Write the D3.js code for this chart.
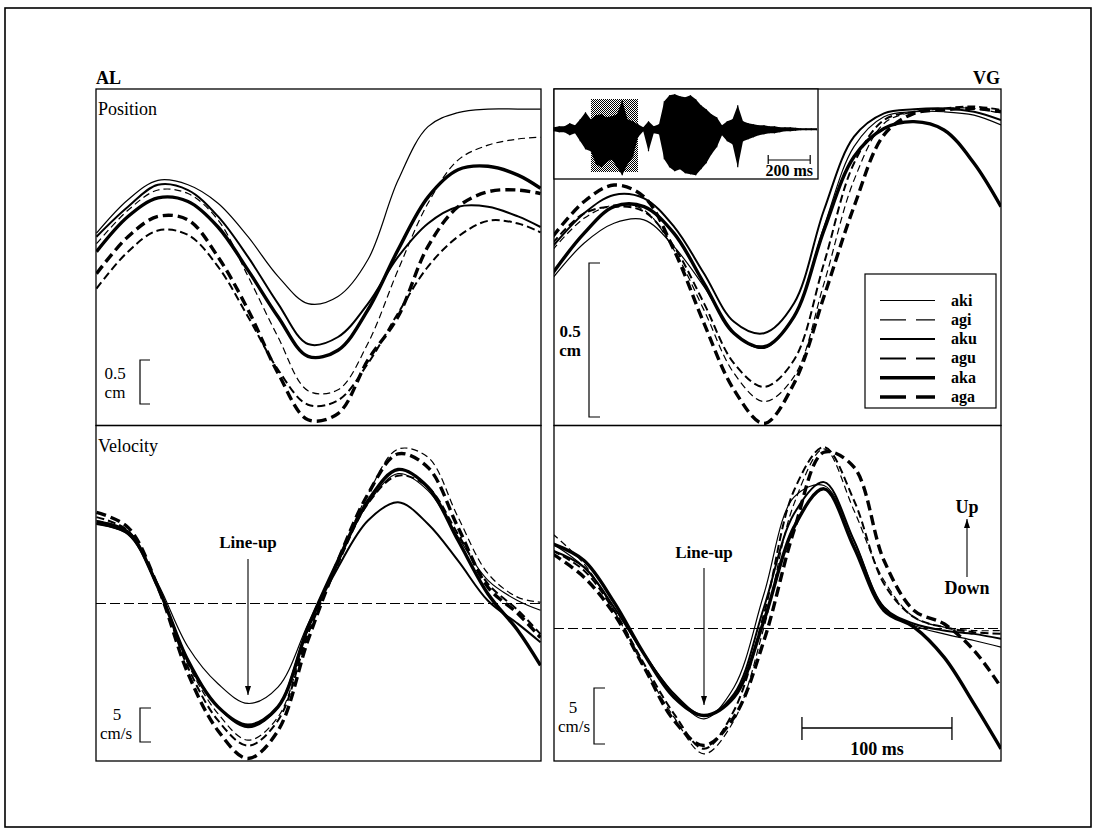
<!DOCTYPE html>
<html>
<head>
<meta charset="utf-8">
<script src="https://cdn.jsdelivr.net/npm/d3@7"></script>
<style>
  body { margin: 0; background: #fff; }
  svg { display: block; }
  text { font-family: "Liberation Serif", "Times New Roman", serif; fill: #000; }
</style>
</head>
<body>
<svg id="fig" width="1096" height="829"></svg>
<script>
// ---- data -------------------------------------------------------------
const syllables = ["aki", "agi", "aku", "agu", "aka", "aga"];

// time (ms) relative to the line-up point (velocity minimum)
const timeAL = [-101, -80, -60, -40, -20, 0, 20, 40, 60, 80, 100, 120, 140, 160, 180, 195];
const timeVG = [-101, -80, -60, -40, -20, 0, 20, 40, 60, 80, 100, 120, 140, 160, 180, 198];

// speaker AL, tongue position (cm)
const posAL_aki = [2.18, 2.56, 2.78, 2.73, 2.52, 2.14, 1.69, 1.38, 1.46, 1.88, 2.78, 3.39, 3.55, 3.59, 3.59, 3.59];
const posAL_agi = [2.06, 2.44, 2.67, 2.63, 2.33, 1.69, 1.00, 0.39, 0.40, 0.93, 1.76, 2.52, 3.01, 3.18, 3.25, 3.27];
const posAL_aku = [2.14, 2.48, 2.73, 2.67, 2.37, 1.91, 1.38, 0.92, 1.00, 1.38, 1.91, 2.29, 2.48, 2.48, 2.37, 2.25];
const posAL_agu = [1.55, 1.97, 2.21, 2.16, 1.80, 1.23, 0.63, 0.23, 0.28, 0.70, 1.27, 1.80, 2.14, 2.32, 2.29, 2.19];
const posAL_aka = [1.97, 2.37, 2.58, 2.54, 2.25, 1.76, 1.23, 0.78, 0.85, 1.31, 1.99, 2.59, 2.90, 2.94, 2.84, 2.69];
const posAL_aga = [1.72, 2.14, 2.37, 2.33, 1.91, 1.31, 0.59, 0.06, 0.13, 0.74, 1.23, 2.03, 2.48, 2.65, 2.67, 2.63];

// speaker AL, tongue velocity (cm/s)
const velAL_aki = [11.7, 10.2, 2.9, -6.4, -11.8, -14.7, -12.3, -3.0, 6.3, 14.7, 19.1, 16.6, 9.8, 3.4, 0.4, -1.0];
const velAL_agi = [12.2, 10.5, 2.4, -8.9, -16.2, -20.1, -16.7, -4.0, 6.3, 16.1, 22.7, 21.5, 12.7, 4.4, 0.9, 0.2];
const velAL_aku = [11.7, 10.2, 2.4, -8.4, -15.2, -18.2, -15.2, -3.5, 5.3, 12.2, 14.9, 11.7, 6.3, 0.4, -3.0, -5.7];
const velAL_agu = [12.7, 10.7, 2.4, -9.4, -17.2, -20.9, -17.2, -4.5, 5.8, 14.7, 18.8, 17.1, 10.2, 2.9, -1.0, -4.5];
const velAL_aka = [12.0, 10.5, 2.4, -8.4, -15.2, -17.9, -15.2, -3.5, 6.3, 15.1, 19.7, 17.1, 9.3, 1.4, -4.0, -9.1];
const velAL_aga = [13.4, 11.2, 2.4, -10.3, -18.7, -22.8, -18.7, -5.4, 6.3, 16.1, 22.0, 20.0, 11.2, 2.4, -1.5, -5.0];

// speaker VG, tongue position (cm)
const posVG_aki = [0.476, 0.590, 0.655, 0.666, 0.579, 0.449, 0.298, 0.249, 0.352, 0.644, 0.904, 1.001, 1.017, 1.017, 1.006, 0.974];
const posVG_agi = [0.568, 0.671, 0.714, 0.698, 0.568, 0.373, 0.168, 0.076, 0.157, 0.460, 0.795, 0.979, 1.017, 1.028, 1.028, 1.012];
const posVG_aku = [0.579, 0.687, 0.747, 0.736, 0.644, 0.492, 0.335, 0.298, 0.395, 0.698, 0.936, 1.012, 1.025, 1.028, 1.017, 0.990];
const posVG_agu = [0.590, 0.687, 0.709, 0.693, 0.579, 0.395, 0.200, 0.124, 0.211, 0.525, 0.850, 0.990, 1.017, 1.028, 1.034, 1.023];
const posVG_aka = [0.492, 0.622, 0.709, 0.709, 0.622, 0.460, 0.298, 0.254, 0.352, 0.633, 0.871, 0.963, 0.985, 0.958, 0.850, 0.709];
const posVG_aga = [0.611, 0.725, 0.779, 0.741, 0.568, 0.330, 0.114, 0.005, 0.135, 0.417, 0.709, 0.942, 1.012, 1.023, 1.028, 1.017];

// speaker VG, tongue velocity (cm/s)
const velVG_aki = [7.56, 5.48, 1.90, -2.26, -5.83, -8.07, -5.24, 3.10, 11.73, 12.77, 7.86, 1.90, 0.27, -0.48, -1.07, -1.67];
const velVG_agi = [8.45, 5.77, 1.61, -3.45, -7.92, -11.19, -8.21, 0.12, 11.13, 16.04, 10.54, 4.29, 1.01, 0.12, -0.18, -0.18];
const velVG_aku = [6.96, 5.48, 1.90, -2.26, -5.83, -7.77, -5.83, 1.90, 10.24, 13.07, 7.86, 1.90, 0.42, -0.18, -0.48, -0.92];
const velVG_agu = [6.96, 5.18, 1.61, -3.15, -7.62, -10.74, -7.32, 1.31, 12.32, 16.19, 11.43, 3.99, 1.01, 0.12, -0.33, -0.48];
const velVG_aka = [7.56, 6.07, 2.35, -2.26, -6.13, -7.77, -6.13, 0.71, 9.05, 12.47, 7.26, 1.61, 0.12, -2.56, -6.73, -10.74];
const velVG_aga = [6.67, 4.58, 1.31, -3.45, -8.21, -10.45, -7.92, -1.07, 8.75, 15.74, 14.40, 6.07, 1.61, 0.42, -1.96, -5.24];

// acoustic waveform of the utterance (envelope, % of full scale), sampled every 25 ms
const waveTime = d3.range(0, 1251, 25);
const waveUpper = [4, 6, 6, 12, 8, 20, 34, 20, 28, 30, 24, 26, 30, 58, 20, 16, 10, 4, 16, 6, 10, 56, 68, 70, 66, 64, 68, 60, 48, 40, 30, 24, 8, 16, 20, 48, 16, 12, 10, 8, 8, 6, 6, 4, 4, 4, 3, 2, 2, 2, 2];
const waveLower = [4, 6, 6, 12, 8, 24, 40, 44, 70, 76, 66, 60, 76, 92, 70, 56, 16, 4, 44, 8, 10, 60, 76, 84, 80, 88, 90, 92, 80, 68, 50, 36, 12, 24, 30, 76, 24, 20, 16, 12, 10, 8, 8, 6, 4, 4, 3, 2, 2, 2, 2];
const waveSegment = [176, 400];   // highlighted stretch (ms)

const posAL = { aki: posAL_aki, agi: posAL_agi, aku: posAL_aku, agu: posAL_agu, aka: posAL_aka, aga: posAL_aga };
const velAL = { aki: velAL_aki, agi: velAL_agi, aku: velAL_aku, agu: velAL_agu, aka: velAL_aka, aga: velAL_aga };
const posVG = { aki: posVG_aki, agi: posVG_agi, aku: posVG_aku, agu: posVG_agu, aka: posVG_aka, aga: posVG_aga };
const velVG = { aki: velVG_aki, agi: velVG_agi, aku: velVG_aku, agu: velVG_agu, aka: velVG_aka, aga: velVG_aga };

// ---- styles -----------------------------------------------------------
const lineWidth = { aki: 1.2, agi: 1.2, aku: 2.0, agu: 2.0, aka: 3.4, aga: 3.4 };
const lineDash  = { aki: null, agi: "7,4", aku: null, agu: "8,4", aka: null, aga: "10,5" };
const legendDash = { aki: null, agi: "26,10", aku: null, agu: "26,10", aka: null, aga: "26,10" };

// ---- layout & scales --------------------------------------------------
const svg = d3.select("#fig");
const defs = svg.append("defs");

const yTop = 89, ySplit = 425.5, yBot = 761;
const left = { x0: 96, x1: 541 }, right = { x0: 554, x1: 1001 };

// time scales: 100 ms = 150 px, line-up point at t = 0
const xAL = d3.scaleLinear().domain([0, 100]).range([248, 398]);
const xVG = d3.scaleLinear().domain([0, 100]).range([704, 854]);
// amplitude scales (from the calibration brackets)
const yPosAL = d3.scaleLinear().domain([0, 0.5]).range([425, 381]);
const yPosVG = d3.scaleLinear().domain([0, 0.5]).range([425, 271]);
const yVelAL = d3.scaleLinear().domain([0, 5]).range([603.5, 569.5]);
const yVelVG = d3.scaleLinear().domain([0, 5]).range([628.5, 572.5]);

// outer frame
svg.append("rect").attr("x", 5).attr("y", 8).attr("width", 1086).attr("height", 819)
  .attr("fill", "none").attr("stroke", "#000").attr("stroke-width", 1.6);

const panels = [
  { id: "alPos", x: xAL, y: yPosAL, time: timeAL, series: posAL, box: [left.x0, yTop, left.x1, ySplit] },
  { id: "alVel", x: xAL, y: yVelAL, time: timeAL, series: velAL, box: [left.x0, ySplit, left.x1, yBot], zero: true },
  { id: "vgPos", x: xVG, y: yPosVG, time: timeVG, series: posVG, box: [right.x0, yTop, right.x1, ySplit] },
  { id: "vgVel", x: xVG, y: yVelVG, time: timeVG, series: velVG, box: [right.x0, ySplit, right.x1, yBot], zero: true }
];

panels.forEach(p => {
  const [x0, y0, x1, y1] = p.box;
  defs.append("clipPath").attr("id", "clip-" + p.id)
    .append("rect").attr("x", x0).attr("y", y0).attr("width", x1 - x0).attr("height", y1 - y0);
  const g = svg.append("g").attr("clip-path", `url(#clip-${p.id})`);
  if (p.zero) {
    g.append("line").attr("x1", x0).attr("x2", x1)
      .attr("y1", p.y(0)).attr("y2", p.y(0))
      .attr("stroke", "#000").attr("stroke-width", 1.1).attr("stroke-dasharray", "10,4");
  }
  const line = d3.line()
    .x((d, i) => p.x(p.time[i]))
    .y(d => p.y(d))
    .curve(d3.curveCatmullRom.alpha(0.5));
  syllables.forEach(s => {
    g.append("path").attr("d", line(p.series[s]))
      .attr("fill", "none").attr("stroke", "#000")
      .attr("stroke-width", lineWidth[s])
      .attr("stroke-dasharray", lineDash[s])
      .attr("stroke-linejoin", "round");
  });
  svg.append("rect").attr("x", x0).attr("y", y0).attr("width", x1 - x0).attr("height", y1 - y0)
    .attr("fill", "none").attr("stroke", "#000").attr("stroke-width", 1.3);
});

// ---- labels -----------------------------------------------------------
function label(x, y, str, opts = {}) {
  return svg.append("text").attr("x", x).attr("y", y)
    .attr("font-size", opts.size || 16)
    .attr("font-weight", opts.bold ? "bold" : "normal")
    .attr("text-anchor", opts.anchor || "start")
    .text(str);
}
label(96, 84, "AL", { size: 18, bold: true });
label(1000, 84, "VG", { size: 18, bold: true, anchor: "end" });
label(98, 115, "Position", { size: 18 });
label(98, 452, "Velocity", { size: 18 });

// calibration brackets, sized from the scales
function bracket(x, yBottom, len, tick) {
  svg.append("path")
    .attr("d", `M${x + tick},${yBottom - len} H${x} V${yBottom} H${x + tick}`)
    .attr("fill", "none").attr("stroke", "#000").attr("stroke-width", 1.2);
}
bracket(140, 404, yPosAL(0) - yPosAL(0.5), 10);
label(115, 379, "0.5", { size: 17, anchor: "middle" });
label(115, 398, "cm", { size: 17, anchor: "middle" });

bracket(589, 417, yPosVG(0) - yPosVG(0.5), 11);
label(570, 337, "0.5", { size: 17, bold: true, anchor: "middle" });
label(570, 356, "cm", { size: 17, bold: true, anchor: "middle" });

bracket(140, 742, yVelAL(0) - yVelAL(5), 11);
label(117, 720, "5", { size: 17, anchor: "middle" });
label(116, 739, "cm/s", { size: 17, anchor: "middle" });

bracket(594, 744, yVelVG(0) - yVelVG(5), 11);
label(573, 713, "5", { size: 17, anchor: "middle" });
label(574, 732, "cm/s", { size: 17, anchor: "middle" });

// arrows
defs.append("marker").attr("id", "head")
  .attr("viewBox", "0 0 9 6").attr("refX", 9).attr("refY", 3)
  .attr("markerWidth", 9).attr("markerHeight", 6)
  .attr("markerUnits", "userSpaceOnUse").attr("orient", "auto")
  .append("path").attr("d", "M0,0 L9,3 L0,6 Z").attr("fill", "#000");

function arrow(x, yFrom, yTo) {
  svg.append("line").attr("x1", x).attr("x2", x).attr("y1", yFrom).attr("y2", yTo)
    .attr("stroke", "#000").attr("stroke-width", 1.1).attr("marker-end", "url(#head)");
}
label(xAL(0), 548, "Line-up", { size: 17, bold: true, anchor: "middle" });
arrow(xAL(0), 559, 695);
label(xVG(0), 558, "Line-up", { size: 17, bold: true, anchor: "middle" });
arrow(xVG(0), 568, 705);

label(967, 513, "Up", { size: 18, bold: true, anchor: "middle" });
arrow(967, 577, 519);
label(967, 594, "Down", { size: 18, bold: true, anchor: "middle" });

// 100 ms time bar
const barT0 = 65.3;
svg.append("path")
  .attr("d", `M${xVG(barT0)},717 V740 M${xVG(barT0)},728 H${xVG(barT0 + 100)} M${xVG(barT0 + 100)},717 V740`)
  .attr("fill", "none").attr("stroke", "#000").attr("stroke-width", 1.3);
label((xVG(barT0) + xVG(barT0 + 100)) / 2, 755, "100 ms", { size: 18, bold: true, anchor: "middle" });

// ---- legend -----------------------------------------------------------
const leg = svg.append("g");
leg.append("rect").attr("x", 865).attr("y", 274).attr("width", 131).attr("height", 134)
  .attr("fill", "#fff").attr("stroke", "#000").attr("stroke-width", 1.2);
syllables.forEach((s, i) => {
  const y = 300.5 + i * 19.3;
  leg.append("line").attr("x1", 880).attr("x2", 935).attr("y1", y).attr("y2", y)
    .attr("stroke", "#000").attr("stroke-width", lineWidth[s])
    .attr("stroke-dasharray", legendDash[s]);
  leg.append("text").attr("x", 951).attr("y", y + 5)
    .attr("font-size", 16).attr("font-weight", "bold").text(s);
});

// ---- waveform inset -----------------------------------------------------
const inset = { x0: 554, y0: 89, x1: 818, y1: 179 };
const xWave = d3.scaleLinear().domain([0, 1000]).range([554, 764]);   // 200 ms = 42 px
const yWave = d3.scaleLinear().domain([-100, 100]).range([179.3, 79.3]);

svg.append("rect").attr("x", inset.x0).attr("y", inset.y0)
  .attr("width", inset.x1 - inset.x0).attr("height", inset.y1 - inset.y0)
  .attr("fill", "#fff");

const pat = defs.append("pattern").attr("id", "stipple")
  .attr("width", 2).attr("height", 2).attr("patternUnits", "userSpaceOnUse");
pat.append("rect").attr("x", 0).attr("y", 0).attr("width", 1).attr("height", 1).attr("fill", "#000");
pat.append("rect").attr("x", 1).attr("y", 1).attr("width", 1).attr("height", 1).attr("fill", "#000");

svg.append("rect").attr("x", xWave(waveSegment[0])).attr("y", 99)
  .attr("width", xWave(waveSegment[1]) - xWave(waveSegment[0])).attr("height", 73)
  .attr("fill", "url(#stipple)");

svg.append("line").attr("x1", inset.x0).attr("x2", xWave(1250))
  .attr("y1", yWave(0)).attr("y2", yWave(0)).attr("stroke", "#000").attr("stroke-width", 1.2);

const waveArea = d3.area()
  .x((d, i) => xWave(waveTime[i]))
  .y0((d, i) => yWave(-waveLower[i]))
  .y1((d, i) => yWave(waveUpper[i]))
  .curve(d3.curveLinear);
svg.append("path").attr("d", waveArea(waveTime)).attr("fill", "#000");
waveTime.forEach((t, i) => {
  svg.append("line").attr("x1", xWave(t)).attr("x2", xWave(t))
    .attr("y1", yWave(waveUpper[i])).attr("y2", yWave(-waveLower[i]))
    .attr("stroke", "#000").attr("stroke-width", 1.2);
});

svg.append("rect").attr("x", inset.x0).attr("y", inset.y0)
  .attr("width", inset.x1 - inset.x0).attr("height", inset.y1 - inset.y0)
  .attr("fill", "none").attr("stroke", "#000").attr("stroke-width", 1.3);

// 200 ms scale bar
const sb0 = 1020, sb1 = 1220;
svg.append("path")
  .attr("d", `M${xWave(sb0)},155 V164 M${xWave(sb0)},160 H${xWave(sb1)} M${xWave(sb1)},155 V164`)
  .attr("fill", "none").attr("stroke", "#000").attr("stroke-width", 1.2);
label(813, 176, "200 ms", { size: 16, bold: true, anchor: "end" });
</script>
</body>
</html>
